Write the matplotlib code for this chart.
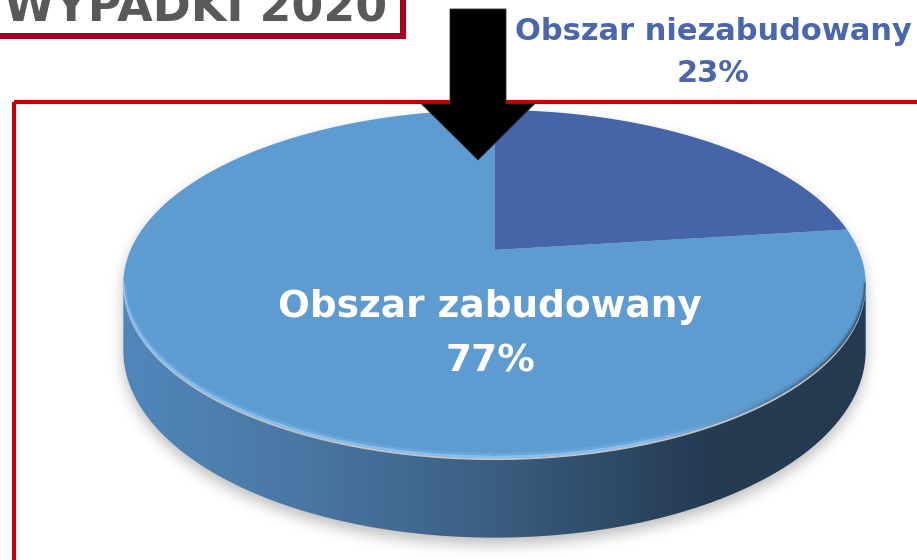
import numpy as np
import matplotlib
matplotlib.use("Agg")
import matplotlib.pyplot as plt
from matplotlib.patches import Polygon, Rectangle, FancyArrow
from matplotlib.path import Path
from matplotlib.collections import LineCollection
from matplotlib.colors import to_rgb

# data
categories = ["Obszar niezabudowany", "Obszar zabudowany"]
values = [23, 77]
slice_colors = ["#4664a8", "#5d9bd1"]
title_text = "WYPADKI 2020"

W, H_FIG = 917, 560

# projection of the 3D disk (pixel space)
CX, CY = 494.5, 250.0
RX, RY = 364.0, 167.4
K = 0.1955
DEPTH = 64.0


def top_pt(theta):
    u, v = np.cos(theta), np.sin(theta)
    d = 1 + K * v
    return CX + RX * u / d, CY - RY * v / d


def bottom_pt(theta):
    x, y = top_pt(theta)
    d = 1 + K * np.sin(theta)
    return x, y + DEPTH / d


def box_blur(img, r):
    k = 2 * r + 1
    p = np.pad(img, ((r, r), (0, 0)), mode="edge")
    c = np.vstack([np.zeros((1, p.shape[1])), np.cumsum(p, axis=0)])
    img = (c[k:] - c[:-k]) / k
    p = np.pad(img, ((0, 0), (r, r)), mode="edge")
    c = np.hstack([np.zeros((p.shape[0], 1)), np.cumsum(p, axis=1)])
    return (c[:, k:] - c[:, :-k]) / k


fig = plt.figure(figsize=(W / 100, H_FIG / 100), dpi=100)
ax = fig.add_axes([0, 0, 1, 1])
ax.set_xlim(0, W)
ax.set_ylim(H_FIG, 0)
ax.axis("off")

# outer red frame and title box
ax.add_patch(Rectangle((14, 102), 1000, 1000, fill=False, ec="#c00000", lw=3.0, zorder=1))
ax.add_patch(Rectangle((-20, -30), 423, 66, fill=False, ec="#a50021", lw=4.3, zorder=1))
ax.text(4, 21, title_text, fontsize=33, fontweight="bold", color="#595959",
        ha="left", va="baseline", family="DejaVu Sans", zorder=2)

# silhouette pieces
a = np.arcsin(K)
th_full = np.linspace(0, 2 * np.pi, 720)
th_full = np.sort(np.concatenate([th_full, [np.pi + a, 2 * np.pi - a]]))
tx, ty = top_pt(th_full)
th_side = np.linspace(np.pi + a, 2 * np.pi - a, 300)
sx_t, sy_t = top_pt(th_side)
sx_b, sy_b = bottom_pt(th_side)
side_xy = np.column_stack([np.concatenate([sx_t, sx_b[::-1]]),
                           np.concatenate([sy_t + 2, sy_b[::-1]])])
top_xy = np.column_stack([tx, ty])

# soft shadow under the pie
gx, gy = np.meshgrid(np.arange(W) + 0.5, np.arange(H_FIG) + 0.5)
pts = np.column_stack([gx.ravel(), gy.ravel() - 7])
mask = Path(side_xy).contains_points(pts) | Path(top_xy).contains_points(pts)
mask = mask.reshape(H_FIG, W).astype(float)
for _ in range(3):
    mask = box_blur(mask, 6)
shadow = np.zeros((H_FIG, W, 4))
shadow[..., :3] = 0.45
shadow[..., 3] = mask * 0.45
ax.imshow(shadow, extent=(0, W, H_FIG, 0), origin="upper", zorder=2, aspect="auto")

# side with horizontal gradient
side_patch = Polygon(side_xy, closed=True, fc="none", ec="none", zorder=3)
ax.add_patch(side_patch)
stops_x = [123, 300, 480, 700, 870]
stops_c = ["#5087bb", "#4a77a4", "#3c6084", "#253c53", "#233a50"]
xs = np.linspace(110, 880, 400)
grad = np.zeros((1, len(xs), 3))
for ch in range(3):
    grad[0, :, ch] = np.interp(xs, stops_x, [to_rgb(c)[ch] for c in stops_c])
img = ax.imshow(grad, extent=(110, 880, 560, 240), origin="upper",
                aspect="auto", interpolation="bilinear", zorder=3)
img.set_clip_path(side_patch)

# top face slices
start = np.pi / 2
fracs = np.array(values, dtype=float) / sum(values)
for frac, col in zip(fracs, slice_colors):
    end = start - frac * 2 * np.pi
    th = np.linspace(start, end, 500)
    x, y = top_pt(th)
    xy = np.column_stack([np.concatenate([[CX], x]), np.concatenate([[CY], y])])
    ax.add_patch(Polygon(xy, closed=True, fc=col, ec="none", zorder=4))
    start = end
face_clip = Polygon(top_xy, closed=True, fc="none", ec="none")
ax.add_patch(face_clip)

# bevel rim along the front edge
th_rim = np.linspace(np.pi + a, 2 * np.pi - a, 300)
rx, ry = top_pt(th_rim)
light, dark = np.array(to_rgb("#8cc4f4")), np.array(to_rgb("#3a5a7c"))
t = np.clip((rx[:-1] - 640) / 200, 0, 1)[:, None]
rim_cols = light * (1 - t) + dark * t
for off, lw, al in [(-2.5, 4.0, 0.25), (-1.0, 2.2, 0.9)]:
    segs = np.stack([np.column_stack([rx[:-1], ry[:-1] + off]),
                     np.column_stack([rx[1:], ry[1:] + off])], axis=1)
    lc = LineCollection(segs, colors=rim_cols, linewidths=lw, alpha=al, zorder=5)
    ax.add_collection(lc)
    lc.set_clip_path(face_clip)

# labels
ax.text(490, 307, categories[1], fontsize=27, fontweight="bold", color="white",
        ha="center", va="center", zorder=6)
ax.text(490, 362, f"{values[1]}%", fontsize=27, fontweight="bold", color="white",
        ha="center", va="center", zorder=6)
ax.text(713, 31, categories[0], fontsize=22, fontweight="bold", color="#4a66ac",
        ha="center", va="center", zorder=6)
ax.text(713, 74, f"{values[0]}%", fontsize=22, fontweight="bold", color="#4a66ac",
        ha="center", va="center", zorder=6)

# black arrow pointing at the pie
ax.add_patch(FancyArrow(478, 9, 0, 151, width=56, head_width=113, head_length=56,
                        length_includes_head=True, fc="black", ec="#303030", lw=0.6, zorder=7))

fig.savefig("out.png", dpi=100)
